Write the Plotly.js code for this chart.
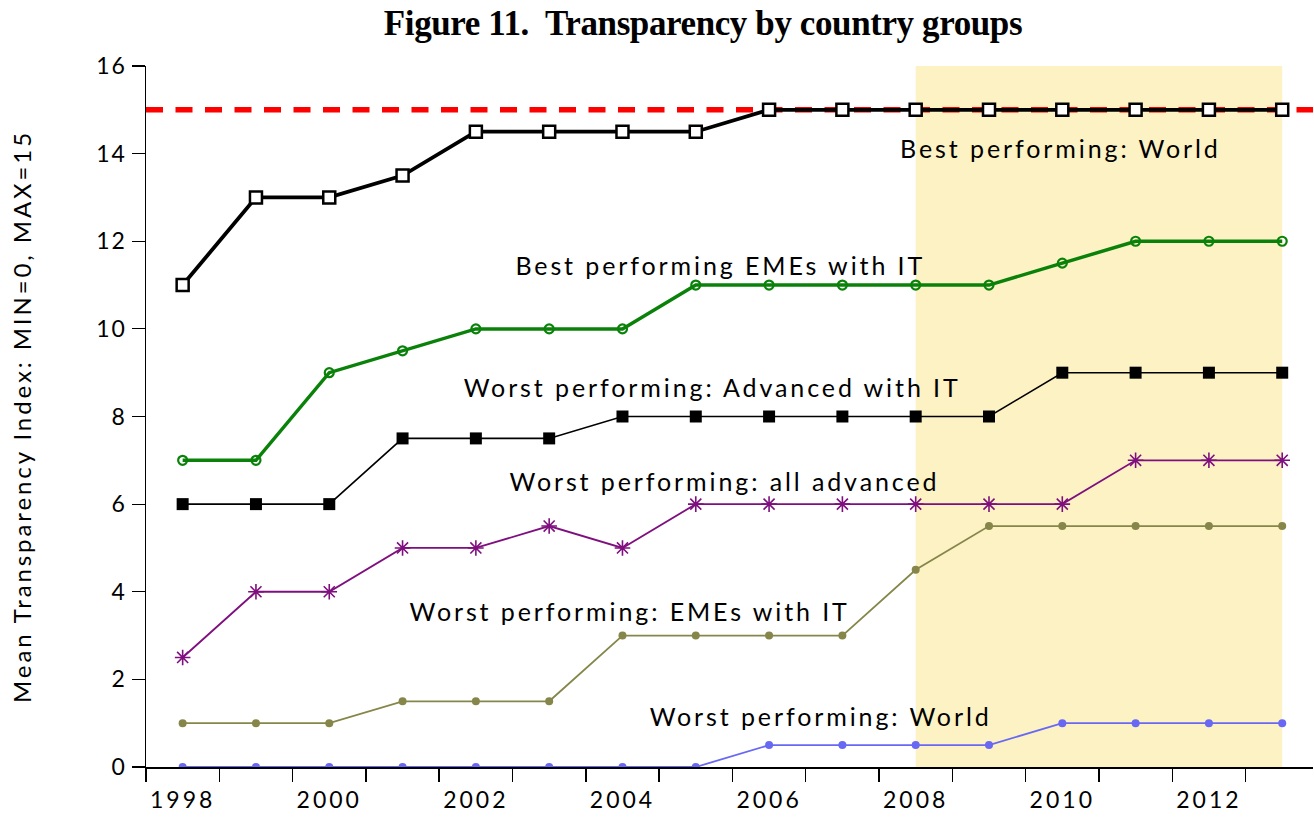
<!DOCTYPE html>
<html>
<head>
<meta charset="utf-8">
<script src="https://cdn.plot.ly/plotly-3.0.1.min.js"></script>
<style>
  html, body { margin: 0; padding: 0; background: #fff; }
  #chart { width: 1314px; height: 820px; }
  #chart g.annotation text { letter-spacing: 2.9px; }
  #chart .xtick text { letter-spacing: 3px; }
  #chart .ytick text { letter-spacing: 2px; }
  #chart .ytitle { letter-spacing: 2.9px; }
  #chart .gtitle { letter-spacing: -0.4px; }
</style>
</head>
<body>
<div id="chart"></div>
<script>
const years = [1998,1999,2000,2001,2002,2003,2004,2005,2006,2007,2008,2009,2010,2011,2012,2013];
const bestWorld      = [11,13,13,13.5,14.5,14.5,14.5,14.5,15,15,15,15,15,15,15,15];
const bestEMEsIT     = [7,7,9,9.5,10,10,10,11,11,11,11,11,11.5,12,12,12];
const worstAdvIT     = [6,6,6,7.5,7.5,7.5,8,8,8,8,8,8,9,9,9,9];
const worstAllAdv    = [2.5,4,4,5,5,5.5,5,6,6,6,6,6,6,7,7,7];
const worstEMEsIT    = [1,1,1,1.5,1.5,1.5,3,3,3,3,4.5,5.5,5.5,5.5,5.5,5.5];
const worstWorld     = [0,0,0,0,0,0,0,0,0.5,0.5,0.5,0.5,1,1,1,1];
const xTickLabels    = ['1998','2000','2002','2004','2006','2008','2010','2012'];
const xTickVals      = [1998,2000,2002,2004,2006,2008,2010,2012];
const yTickVals      = [0,2,4,6,8,10,12,14,16];
const maxScore       = 15;
const shadeStart     = 2008;
const shadeEnd       = 2013;
const seriesNames = ['Best performing: World','Best performing EMEs with IT','Worst performing: Advanced with IT','Worst performing: all advanced','Worst performing: EMEs with IT','Worst performing: World'];

const txtFont = 'Lato, sans-serif';

const traces = [
  {x: years, y: worstWorld, name: seriesNames[5], mode: 'lines+markers',
   line: {color: '#6868f4', width: 1.8},
   marker: {symbol: 'circle', size: 8, color: '#6868f4'}},
  {x: years, y: worstEMEsIT, name: seriesNames[4], mode: 'lines+markers',
   line: {color: '#86864a', width: 1.8},
   marker: {symbol: 'circle', size: 8, color: '#86864a'}},
  {x: years, y: worstAllAdv, name: seriesNames[3], mode: 'lines+markers',
   line: {color: '#7f0f7f', width: 1.8},
   marker: {symbol: 'asterisk-open', size: 13, color: '#7f0f7f', line: {color: '#7f0f7f', width: 1.6}}},
  {x: years, y: worstAdvIT, name: seriesNames[2], mode: 'lines+markers',
   line: {color: '#000000', width: 1.6},
   marker: {symbol: 'square', size: 12, color: '#000000'}},
  {x: years, y: bestEMEsIT, name: seriesNames[1], mode: 'lines+markers',
   line: {color: '#0a820a', width: 3.5},
   marker: {symbol: 'circle-open', size: 9, color: '#0a820a', line: {color: '#0a820a', width: 2.2}}},
  {x: years, y: bestWorld, name: seriesNames[0], mode: 'lines+markers',
   line: {color: '#000000', width: 3.8},
   marker: {symbol: 'square', size: 12, color: '#ffffff', line: {color: '#000000', width: 2.5}}}
];

const annFont = {family: txtFont, size: 25, color: '#000'};
const annotations = [
  {x: 2009.98, y: 14.13, text: seriesNames[0]},
  {x: 2005.34, y: 11.45, text: seriesNames[1]},
  {x: 2005.23, y: 8.67, text: seriesNames[2]},
  {x: 2005.39, y: 6.53, text: seriesNames[3]},
  {x: 2004.1, y: 3.56, text: seriesNames[4]},
  {x: 2006.7, y: 1.16, text: seriesNames[5]}
].map(a => Object.assign(a, {xref: 'x', yref: 'y', showarrow: false, font: annFont, xanchor: 'center', yanchor: 'middle'}));

const layout = {
  width: 1314, height: 820,
  margin: {l: 146, r: 1, t: 66, b: 53},
  paper_bgcolor: '#ffffff', plot_bgcolor: '#ffffff',
  showlegend: false,
  title: {text: '<b>Figure 11.  Transparency by country groups</b>',
          font: {family: 'Liberation Serif, serif', size: 35, color: '#000'},
          x: 0.535, xanchor: 'center', y: 0.972, yanchor: 'middle'},
  xaxis: {range: [1997.5, 2013.42], tickmode: 'array', tickvals: xTickVals, ticktext: xTickLabels,
          ticks: '', showgrid: false, zeroline: false, showline: true, linecolor: '#000', linewidth: 1.5,
          tickfont: {family: txtFont, size: 23, color: '#000'}, ticklabelstandoff: 12,
          minor: {tick0: 1997.5, dtick: 1, ticks: 'outside', ticklen: 13, tickcolor: '#000', tickwidth: 1.5, showgrid: false}},
  yaxis: {range: [0, 16], tickmode: 'array', tickvals: yTickVals, ticks: 'outside', ticklen: 13,
          tickcolor: '#000', tickwidth: 1.2, showgrid: false, zeroline: false, showline: true,
          linecolor: '#000', linewidth: 1.5, tickfont: {family: txtFont, size: 23, color: '#000'},
          title: {text: 'Mean Transparency Index: MIN=0, MAX=15', font: {family: txtFont, size: 24, color: '#000'}, standoff: 62}},
  shapes: [
    {type: 'rect', xref: 'x', yref: 'paper', x0: shadeStart, x1: shadeEnd, y0: 0, y1: 1,
     fillcolor: '#fcf2c4', line: {width: 0}, layer: 'below'},
    {type: 'line', xref: 'paper', yref: 'y', x0: 0, x1: 1, y0: maxScore, y1: maxScore,
     line: {color: '#ff0000', width: 5.5, dash: '17px,12.5px'}, layer: 'below'}
  ],
  annotations: annotations
};

Plotly.newPlot('chart', traces, layout, {displayModeBar: false, staticPlot: true});
</script>
</body>
</html>
